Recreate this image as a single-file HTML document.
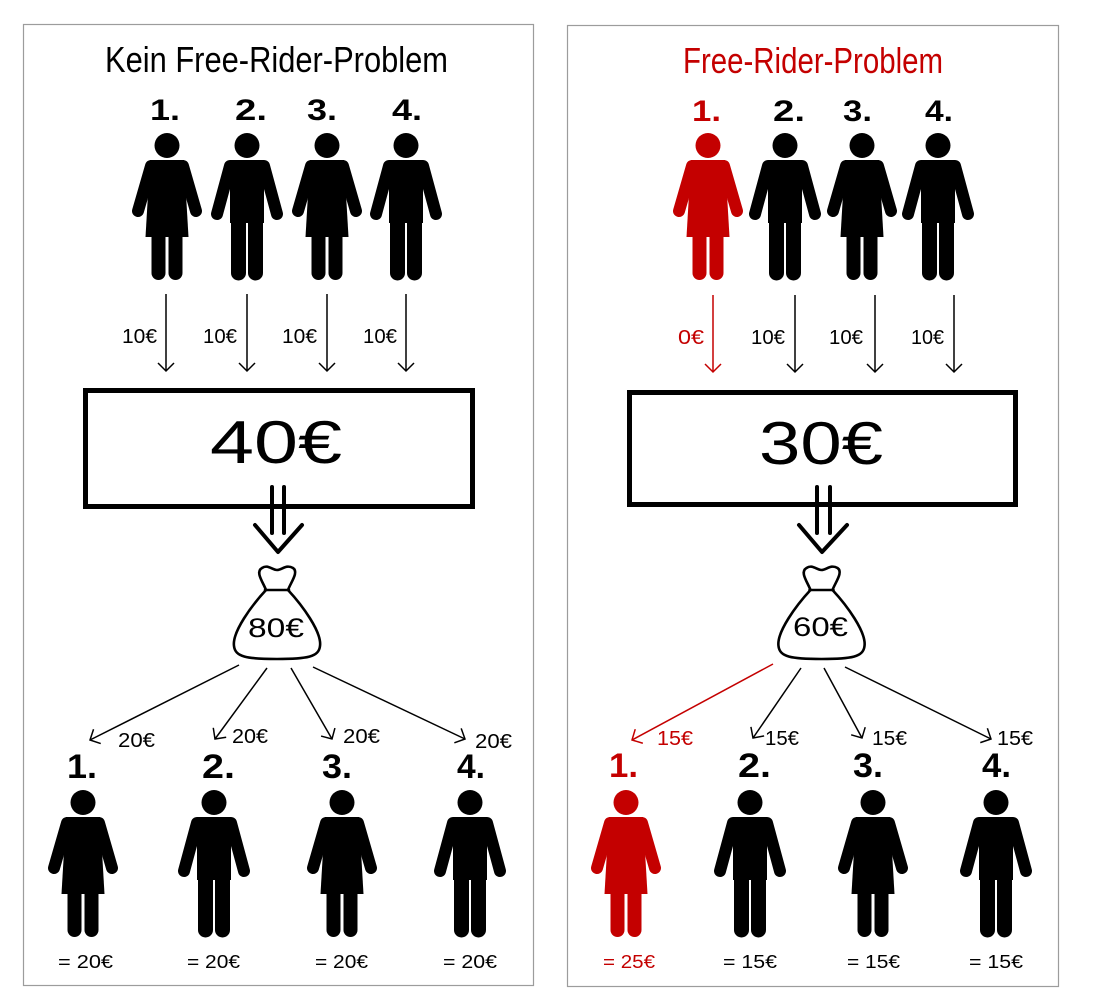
<!DOCTYPE html>
<html><head><meta charset="utf-8"><style>
html,body{margin:0;padding:0;background:#fff;}
svg{display:block;}
text{font-family:"Liberation Sans","DejaVu Sans",sans-serif;}
</style></head><body>
<svg width="1105" height="998" viewBox="0 0 1105 998" xmlns="http://www.w3.org/2000/svg">
<defs>
  <g id="man">
    <circle cx="0" cy="12.5" r="12.5" fill="currentColor"/>
    <path d="M-17 27 H17 V90 H-17 Z" fill="currentColor"/>
    <g stroke="currentColor" stroke-linecap="round" fill="none">
      <line x1="-17" y1="33" x2="-30" y2="81" stroke-width="12"/>
      <line x1="17" y1="33" x2="30" y2="81" stroke-width="12"/>
      <line x1="-8.5" y1="85" x2="-8.5" y2="140" stroke-width="15"/>
      <line x1="8.5" y1="85" x2="8.5" y2="140" stroke-width="15"/>
    </g>
  </g>
  <g id="woman">
    <circle cx="0" cy="12.5" r="12.5" fill="currentColor"/>
    <path d="M-17 27 H17 L21.5 104 H-21.5 Z" fill="currentColor"/>
    <g stroke="currentColor" stroke-linecap="round" fill="none">
      <line x1="-16" y1="33" x2="-29" y2="78" stroke-width="12"/>
      <line x1="16" y1="33" x2="29" y2="78" stroke-width="12"/>
      <line x1="-8.5" y1="100" x2="-8.5" y2="140" stroke-width="14"/>
      <line x1="8.5" y1="100" x2="8.5" y2="140" stroke-width="14"/>
    </g>
  </g>
  <g id="bag" fill="none" stroke="#000" stroke-width="2.6" stroke-linejoin="round" stroke-linecap="round">
    <path d="M-11 30 C-14 22,-22 12,-15 8 C-9 4,-5 10,0 10 C5 10,9 4,16 8 C22 12,14 22,11 30"/>
    <path d="M-12 30 L12 30"/>
    <path d="M-11 30 C-25 45,-45 72,-43 86 C-42 97,-30 99,0 99 C30 99,42 97,43 86 C45 72,25 45,11 30"/>
  </g>
  <marker id="ah" markerUnits="userSpaceOnUse" markerWidth="20" markerHeight="20" refX="0" refY="0" viewBox="-10 -10 20 20" orient="auto">
    <path d="M-8 -8 L0 0 L-8 8" fill="none" stroke="#000" stroke-width="1.5"/>
  </marker>
  <marker id="ahr" markerUnits="userSpaceOnUse" markerWidth="20" markerHeight="20" refX="0" refY="0" viewBox="-10 -10 20 20" orient="auto">
    <path d="M-8 -8 L0 0 L-8 8" fill="none" stroke="#c40000" stroke-width="1.5"/>
  </marker>
</defs>

<!-- panels -->
<rect x="23.5" y="24.5" width="510" height="961" fill="#fff" stroke="#9c9c9c" stroke-width="1.2"/>
<rect x="567.5" y="25.5" width="491" height="961" fill="#fff" stroke="#9c9c9c" stroke-width="1.2"/>

<!-- LEFT PANEL -->
<text x="105" y="72" font-size="36" textLength="343" lengthAdjust="spacingAndGlyphs" fill="#000">Kein Free-Rider-Problem</text>

<g font-weight="bold" font-size="30" fill="#000">
  <text x="150" y="120" textLength="30" lengthAdjust="spacingAndGlyphs">1.</text>
  <text x="235" y="120" textLength="32" lengthAdjust="spacingAndGlyphs">2.</text>
  <text x="307" y="120" textLength="30" lengthAdjust="spacingAndGlyphs">3.</text>
  <text x="392" y="120" textLength="30" lengthAdjust="spacingAndGlyphs">4.</text>
</g>

<g color="#000">
  <use href="#woman" x="167" y="133"/>
  <use href="#man" x="247" y="133"/>
  <use href="#woman" x="327" y="133"/>
  <use href="#man" x="406" y="133"/>
</g>

<g stroke="#000" stroke-width="1.5">
  <line x1="166" y1="294" x2="166" y2="371" marker-end="url(#ah)"/>
  <line x1="247" y1="294" x2="247" y2="371" marker-end="url(#ah)"/>
  <line x1="327" y1="294" x2="327" y2="371" marker-end="url(#ah)"/>
  <line x1="406" y1="294" x2="406" y2="371" marker-end="url(#ah)"/>
</g>
<g font-size="20" fill="#000">
  <text x="122" y="343" textLength="35" lengthAdjust="spacingAndGlyphs">10€</text>
  <text x="203" y="343" textLength="34" lengthAdjust="spacingAndGlyphs">10€</text>
  <text x="282" y="343" textLength="35" lengthAdjust="spacingAndGlyphs">10€</text>
  <text x="363" y="343" textLength="34" lengthAdjust="spacingAndGlyphs">10€</text>
</g>

<rect x="85.5" y="390.5" width="387" height="116" fill="none" stroke="#000" stroke-width="5"/>
<text x="210" y="463" font-size="60" textLength="132" lengthAdjust="spacingAndGlyphs" fill="#000">40€</text>

<g stroke="#000" stroke-width="4" fill="none" stroke-linecap="round" stroke-linejoin="round">
  <line x1="272" y1="487" x2="272" y2="533"/>
  <line x1="284" y1="487" x2="284" y2="533"/>
  <path d="M255 525 L278 552 L302 525"/>
</g>

<use href="#bag" x="277" y="560"/>
<text x="248" y="637" font-size="27" textLength="56" lengthAdjust="spacingAndGlyphs" fill="#000">80€</text>

<g stroke="#000" stroke-width="1.5">
  <line x1="239" y1="665" x2="90" y2="740" marker-end="url(#ah)"/>
  <line x1="267" y1="668" x2="215" y2="739" marker-end="url(#ah)"/>
  <line x1="291" y1="668" x2="332" y2="739" marker-end="url(#ah)"/>
  <line x1="313" y1="667" x2="465" y2="739" marker-end="url(#ah)"/>
</g>
<g font-size="20" fill="#000">
  <text x="118" y="747" textLength="37" lengthAdjust="spacingAndGlyphs">20€</text>
  <text x="232" y="743" textLength="36" lengthAdjust="spacingAndGlyphs">20€</text>
  <text x="343" y="743" textLength="37" lengthAdjust="spacingAndGlyphs">20€</text>
  <text x="475" y="748" textLength="37" lengthAdjust="spacingAndGlyphs">20€</text>
</g>

<g font-weight="bold" font-size="34" fill="#000">
  <text x="67" y="778" textLength="30" lengthAdjust="spacingAndGlyphs">1.</text>
  <text x="202" y="778" textLength="33" lengthAdjust="spacingAndGlyphs">2.</text>
  <text x="322" y="778" textLength="30" lengthAdjust="spacingAndGlyphs">3.</text>
  <text x="457" y="778" textLength="28" lengthAdjust="spacingAndGlyphs">4.</text>
</g>

<g color="#000">
  <use href="#woman" x="83" y="790"/>
  <use href="#man" x="214" y="790"/>
  <use href="#woman" x="342" y="790"/>
  <use href="#man" x="470" y="790"/>
</g>

<g font-size="18" fill="#000">
  <text x="58" y="968" textLength="55" lengthAdjust="spacingAndGlyphs">= 20€</text>
  <text x="187" y="968" textLength="53" lengthAdjust="spacingAndGlyphs">= 20€</text>
  <text x="315" y="968" textLength="53" lengthAdjust="spacingAndGlyphs">= 20€</text>
  <text x="443" y="968" textLength="54" lengthAdjust="spacingAndGlyphs">= 20€</text>
</g>

<!-- RIGHT PANEL -->
<text x="683" y="73" font-size="36" textLength="260" lengthAdjust="spacingAndGlyphs" fill="#c40000">Free-Rider-Problem</text>

<g font-weight="bold" font-size="30" fill="#000">
  <text x="692" y="121" textLength="29" lengthAdjust="spacingAndGlyphs" fill="#c40000">1.</text>
  <text x="773" y="121" textLength="32" lengthAdjust="spacingAndGlyphs">2.</text>
  <text x="843" y="121" textLength="29" lengthAdjust="spacingAndGlyphs">3.</text>
  <text x="925" y="121" textLength="28" lengthAdjust="spacingAndGlyphs">4.</text>
</g>

<use href="#woman" x="708" y="133" color="#c40000"/>
<g color="#000">
  <use href="#man" x="785" y="133"/>
  <use href="#woman" x="862" y="133"/>
  <use href="#man" x="938" y="133"/>
</g>

<line x1="713" y1="295" x2="713" y2="372" stroke="#c40000" stroke-width="1.5" marker-end="url(#ahr)"/>
<g stroke="#000" stroke-width="1.5">
  <line x1="795" y1="295" x2="795" y2="372" marker-end="url(#ah)"/>
  <line x1="875" y1="295" x2="875" y2="372" marker-end="url(#ah)"/>
  <line x1="954" y1="295" x2="954" y2="372" marker-end="url(#ah)"/>
</g>
<g font-size="20" fill="#000">
  <text x="678" y="344" textLength="26" lengthAdjust="spacingAndGlyphs" fill="#c40000">0€</text>
  <text x="751" y="344" textLength="34" lengthAdjust="spacingAndGlyphs">10€</text>
  <text x="829" y="344" textLength="34" lengthAdjust="spacingAndGlyphs">10€</text>
  <text x="911" y="344" textLength="33" lengthAdjust="spacingAndGlyphs">10€</text>
</g>

<rect x="629.5" y="392.5" width="386" height="112" fill="none" stroke="#000" stroke-width="5"/>
<text x="759" y="464" font-size="60" textLength="124" lengthAdjust="spacingAndGlyphs" fill="#000">30€</text>

<g stroke="#000" stroke-width="4" fill="none" stroke-linecap="round" stroke-linejoin="round">
  <line x1="817" y1="487" x2="817" y2="533"/>
  <line x1="830" y1="487" x2="830" y2="533"/>
  <path d="M799 525 L822 552 L847 525"/>
</g>

<use href="#bag" x="821.5" y="560"/>
<text x="793" y="636" font-size="27" textLength="55" lengthAdjust="spacingAndGlyphs" fill="#000">60€</text>

<line x1="773" y1="664" x2="632" y2="740" stroke="#c40000" stroke-width="1.5" marker-end="url(#ahr)"/>
<g stroke="#000" stroke-width="1.5">
  <line x1="801" y1="668" x2="753" y2="738" marker-end="url(#ah)"/>
  <line x1="824" y1="668" x2="862" y2="738" marker-end="url(#ah)"/>
  <line x1="845" y1="667" x2="991" y2="739" marker-end="url(#ah)"/>
</g>
<g font-size="20" fill="#000">
  <text x="657" y="745" textLength="36" lengthAdjust="spacingAndGlyphs" fill="#c40000">15€</text>
  <text x="765" y="745" textLength="34" lengthAdjust="spacingAndGlyphs">15€</text>
  <text x="872" y="745" textLength="35" lengthAdjust="spacingAndGlyphs">15€</text>
  <text x="997" y="745" textLength="36" lengthAdjust="spacingAndGlyphs">15€</text>
</g>

<g font-weight="bold" font-size="34" fill="#000">
  <text x="609" y="777" textLength="29" lengthAdjust="spacingAndGlyphs" fill="#c40000">1.</text>
  <text x="738" y="777" textLength="33" lengthAdjust="spacingAndGlyphs">2.</text>
  <text x="853" y="777" textLength="30" lengthAdjust="spacingAndGlyphs">3.</text>
  <text x="982" y="777" textLength="29" lengthAdjust="spacingAndGlyphs">4.</text>
</g>

<use href="#woman" x="626" y="790" color="#c40000"/>
<g color="#000">
  <use href="#man" x="750" y="790"/>
  <use href="#woman" x="873" y="790"/>
  <use href="#man" x="996" y="790"/>
</g>

<g font-size="18" fill="#000">
  <text x="603" y="968" textLength="52" lengthAdjust="spacingAndGlyphs" fill="#c40000">= 25€</text>
  <text x="723" y="968" textLength="54" lengthAdjust="spacingAndGlyphs">= 15€</text>
  <text x="847" y="968" textLength="53" lengthAdjust="spacingAndGlyphs">= 15€</text>
  <text x="969" y="968" textLength="54" lengthAdjust="spacingAndGlyphs">= 15€</text>
</g>
</svg>
</body></html>
